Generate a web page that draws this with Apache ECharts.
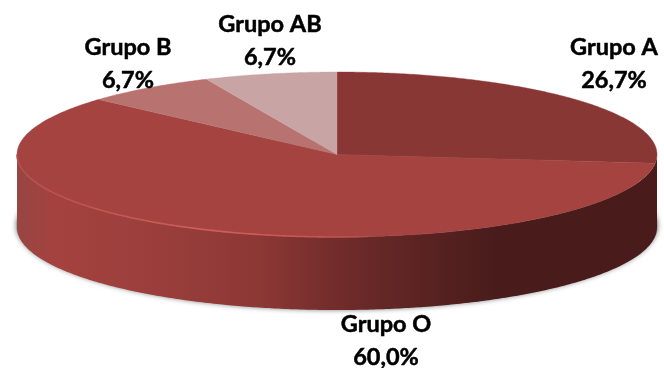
<!DOCTYPE html>
<html><head><meta charset="utf-8">
<style>html,body{margin:0;padding:0;background:#fff}#c{width:664px;height:368px}</style>
<script src="https://cdn.jsdelivr.net/npm/echarts@6/dist/echarts.min.js"></script>
</head><body><div id="c"></div>
<script>
const categories = ['Grupo A', 'Grupo O', 'Grupo B', 'Grupo AB'];
const values = [26.7, 60.0, 6.7, 6.7];
const percentLabels = ['26,7%', '60,0%', '6,7%', '6,7%'];
const sliceColors = ['#893735', '#a54341', '#b87270', '#c9a4a4'];
const labelAnchors = [[614, 47], [386, 324], [128, 47], [270, 24]];

const C = {cx: 337, cy: 154.5, rx: 320, ry: 82.5, depth: 73, lineGap: 33};
const total = values.reduce((a, b) => a + b, 0);
const starts = [];
values.reduce((acc, v, i) => (starts[i] = acc, acc + v), 0);

function pt(a, dy) {
  return [C.cx + C.rx * Math.sin(a), C.cy + (dy || 0) - C.ry * Math.cos(a)];
}
function arc(a0, a1, dy) {
  const n = Math.max(2, Math.ceil(Math.abs(a1 - a0) / 0.01)), out = [];
  for (let i = 0; i <= n; i++) out.push(pt(a0 + (a1 - a0) * i / n, dy));
  return out;
}
const wallFill = {
  type: 'linear', global: true, x: 16, y: 0, x2: 656, y2: 0,
  colorStops: [
    {offset: 0, color: '#964643'}, {offset: 0.06, color: '#a4423f'},
    {offset: 0.2, color: '#9c3f3c'}, {offset: 0.38, color: '#8c3835'},
    {offset: 0.5, color: '#722c2b'}, {offset: 0.62, color: '#5c2423'},
    {offset: 0.75, color: '#491c1b'}, {offset: 1, color: '#491c1b'}
  ]
};
const rimFill = {
  type: 'linear', global: true, x: 16, y: 0, x2: 400, y2: 0,
  colorStops: [
    {offset: 0, color: '#b5504c'}, {offset: 0.5, color: '#cf5f5a'},
    {offset: 0.85, color: '#c05450'}, {offset: 1, color: 'rgba(180,75,72,0)'}
  ]
};

function renderBody() {
  const front = arc(Math.PI / 2, Math.PI * 1.5);
  const back = arc(Math.PI * 1.5, Math.PI / 2, C.depth);
  return {type: 'group', children: [
    {type: 'ellipse', shape: {cx: C.cx, cy: C.cy + C.depth - 2, rx: C.rx + 1, ry: C.ry + 2},
     style: {fill: '#a8a8a8', shadowColor: 'rgba(0,0,0,0.5)', shadowBlur: 5}},
    {type: 'polygon', shape: {points: front.concat(back)}, style: {fill: wallFill}}
  ]};
}
function renderSlice(params, api) {
  const i = params.dataIndex;
  const a0 = starts[i] / total * 2 * Math.PI;
  const a1 = a0 + api.value(0) / total * 2 * Math.PI;
  const pts = [[C.cx, C.cy]].concat(arc(a0, a1));
  const children = [
    {type: 'polygon', shape: {points: pts},
     style: {fill: sliceColors[i], stroke: sliceColors[i], lineWidth: 0.4}}
  ];
  if (a0 < Math.PI && a1 > Math.PI) {
    children.push({type: 'polyline', shape: {points: arc(Math.PI * 0.97, Math.PI * 1.5)},
      style: {fill: 'none', stroke: rimFill, lineWidth: 1.6}});
  }
  return {type: 'group', children};
}
function renderLabel(params, api) {
  const i = params.dataIndex, a = labelAnchors[i];
  const font = 'bold 23.5px Lato, "Open Sans", sans-serif';
  const mk = (t, y) => ({type: 'text', style: {
    text: t, x: a[0], y, align: 'center', verticalAlign: 'middle', fill: '#000',
    stroke: '#000', lineWidth: 0.5, font}});
  return {type: 'group', children: [mk(categories[i], a[1]), mk(percentLabels[i], a[1] + C.lineGap)]};
}
const chart = echarts.init(document.getElementById('c'), null, {renderer: 'canvas'});
chart.setOption({
  animation: false,
  backgroundColor: '#fff',
  series: [
    {type: 'custom', coordinateSystem: 'none', silent: true, data: [[total]], renderItem: renderBody, z: 1},
    {type: 'custom', coordinateSystem: 'none', silent: true, renderItem: renderSlice, z: 2,
     data: values.map((v, i) => ({name: categories[i], value: [v]}))},
    {type: 'custom', coordinateSystem: 'none', silent: true, renderItem: renderLabel, z: 3,
     data: values.map((v, i) => ({name: categories[i], value: [v]}))}
  ]
});
</script></body></html>
